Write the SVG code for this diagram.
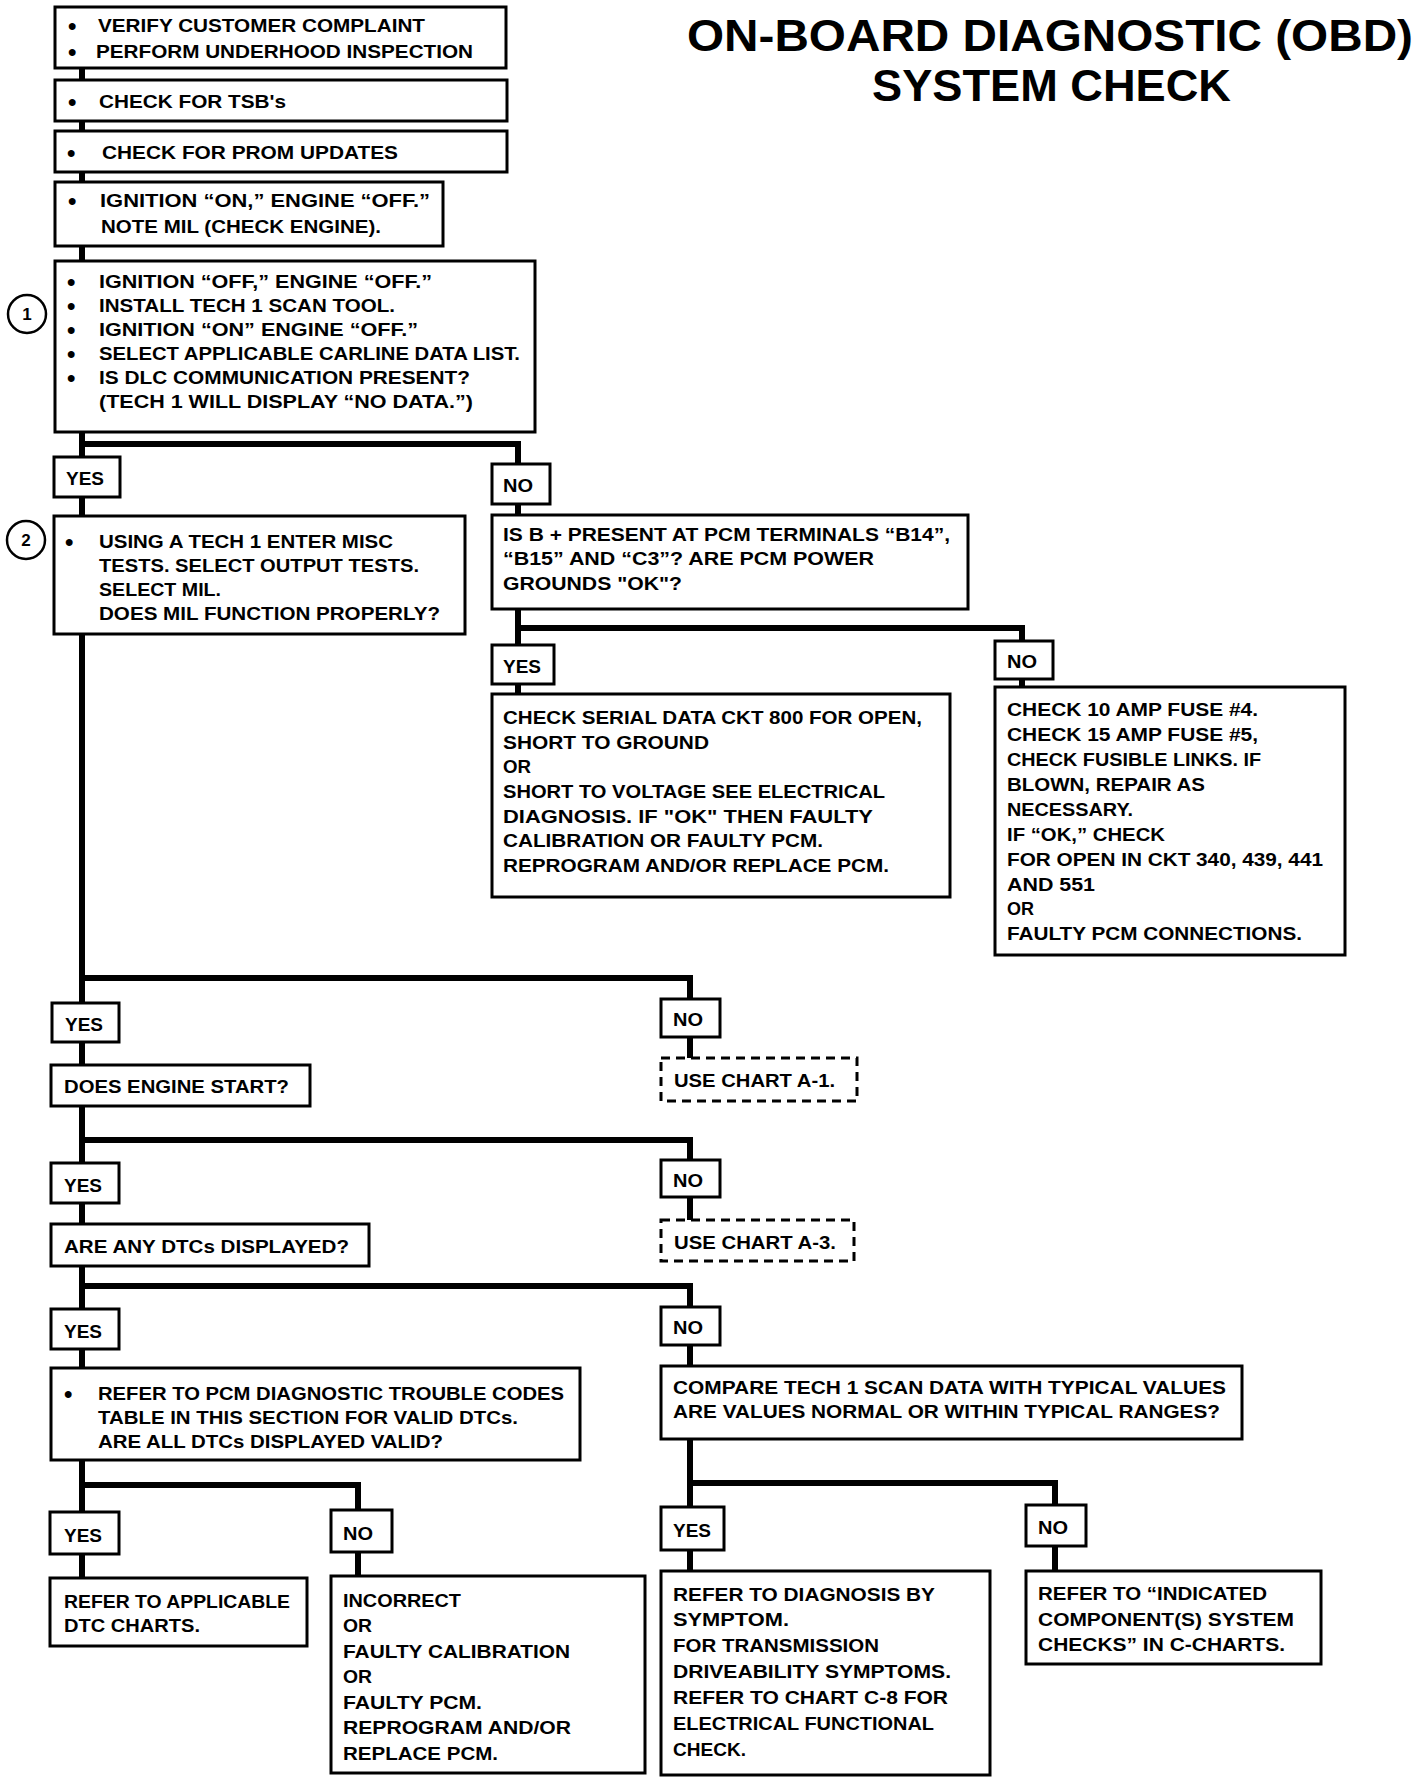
<svg xmlns="http://www.w3.org/2000/svg" width="1424" height="1778" viewBox="0 0 1424 1778">
<style>
.box{fill:#fff;stroke:#000;stroke-width:3}
.dash{stroke-dasharray:9 6}
.conn{fill:none;stroke:#000;stroke-width:6;stroke-linejoin:miter;stroke-linecap:square}
text{font-family:"Liberation Sans",Arial,sans-serif;font-weight:bold;font-size:18px;fill:#000}
.title{font-size:45px}
.num{font-size:17px;text-anchor:middle}
.b{font-size:24px}
</style>
<rect width="1424" height="1778" fill="#fff"/>
<g id="title">
<text class="title" x="687" y="51" textLength="726" lengthAdjust="spacingAndGlyphs">ON-BOARD DIAGNOSTIC (OBD)</text>
<text class="title" x="872" y="101" textLength="359" lengthAdjust="spacingAndGlyphs">SYSTEM CHECK</text>
</g>
<g id="connectors">
<path class="conn" d="M82,68 V1578"/>
<path class="conn" d="M82,444 H518 V515"/>
<path class="conn" d="M518,609 V694"/>
<path class="conn" d="M518,628 H1022 V687"/>
<path class="conn" d="M82,978 H690 V1058"/>
<path class="conn" d="M82,1140 H690 V1220"/>
<path class="conn" d="M82,1286 H690 V1366"/>
<path class="conn" d="M690,1439 V1571"/>
<path class="conn" d="M690,1483 H1055 V1571"/>
<path class="conn" d="M82,1485 H358 V1576"/>
</g>
<g id="n1">
<rect class="box" x="55" y="7" width="451" height="61"/>
<text class="b" x="68" y="34">•</text><text x="98" y="32" textLength="327" lengthAdjust="spacingAndGlyphs">VERIFY CUSTOMER COMPLAINT</text>
<text class="b" x="68" y="60">•</text><text x="96" y="58" textLength="377" lengthAdjust="spacingAndGlyphs">PERFORM UNDERHOOD INSPECTION</text>
</g>
<g id="n2">
<rect class="box" x="55" y="80" width="452" height="41"/>
<text class="b" x="68" y="110">•</text><text x="99" y="108" textLength="187" lengthAdjust="spacingAndGlyphs">CHECK FOR TSB's</text>
</g>
<g id="n3">
<rect class="box" x="55" y="131" width="452" height="41"/>
<text class="b" x="67" y="161">•</text><text x="102" y="159" textLength="296" lengthAdjust="spacingAndGlyphs">CHECK FOR PROM UPDATES</text>
</g>
<g id="n4">
<rect class="box" x="55" y="182" width="388" height="64"/>
<text class="b" x="68" y="209">•</text><text x="100" y="207" textLength="330" lengthAdjust="spacingAndGlyphs">IGNITION “ON,” ENGINE “OFF.”</text>
<text x="101" y="233" textLength="280" lengthAdjust="spacingAndGlyphs">NOTE MIL (CHECK ENGINE).</text>
</g>
<g id="n5">
<rect class="box" x="55" y="261" width="480" height="171"/>
<text class="b" x="67" y="290">•</text><text x="99" y="288" textLength="333" lengthAdjust="spacingAndGlyphs">IGNITION “OFF,” ENGINE “OFF.”</text>
<text class="b" x="67" y="314">•</text><text x="99" y="312" textLength="296" lengthAdjust="spacingAndGlyphs">INSTALL TECH 1 SCAN TOOL.</text>
<text class="b" x="67" y="338">•</text><text x="99" y="336" textLength="319" lengthAdjust="spacingAndGlyphs">IGNITION “ON” ENGINE “OFF.”</text>
<text class="b" x="67" y="362">•</text><text x="99" y="360" textLength="421" lengthAdjust="spacingAndGlyphs">SELECT APPLICABLE CARLINE DATA LIST.</text>
<text class="b" x="67" y="386">•</text><text x="99" y="384" textLength="371" lengthAdjust="spacingAndGlyphs">IS DLC COMMUNICATION PRESENT?</text>
<text x="99" y="408" textLength="374" lengthAdjust="spacingAndGlyphs">(TECH 1 WILL DISPLAY “NO DATA.”)</text>
</g>
<g id="c1">
<circle cx="27" cy="314" r="19" fill="#fff" stroke="#000" stroke-width="2.5"/>
<text class="num" x="27" y="320">1</text>
</g>
<g id="yes1">
<rect class="box" x="54" y="457" width="66" height="40"/>
<text x="66" y="485" textLength="38" lengthAdjust="spacingAndGlyphs">YES</text>
</g>
<g id="no1">
<rect class="box" x="492" y="464" width="58" height="40"/>
<text x="503" y="492" textLength="30" lengthAdjust="spacingAndGlyphs">NO</text>
</g>
<g id="c2">
<circle cx="26" cy="540" r="19" fill="#fff" stroke="#000" stroke-width="2.5"/>
<text class="num" x="26" y="546">2</text>
</g>
<g id="n6">
<rect class="box" x="54" y="516" width="411" height="118"/>
<text class="b" x="65" y="550">•</text><text x="99" y="548" textLength="294" lengthAdjust="spacingAndGlyphs">USING A TECH 1 ENTER MISC</text>
<text x="99" y="572" textLength="320" lengthAdjust="spacingAndGlyphs">TESTS.  SELECT OUTPUT TESTS.</text>
<text x="99" y="596" textLength="122" lengthAdjust="spacingAndGlyphs">SELECT MIL.</text>
<text x="99" y="620" textLength="341" lengthAdjust="spacingAndGlyphs">DOES MIL FUNCTION PROPERLY?</text>
</g>
<g id="n7">
<rect class="box" x="492" y="515" width="476" height="94"/>
<text x="503" y="541" textLength="447" lengthAdjust="spacingAndGlyphs">IS B +  PRESENT AT PCM TERMINALS “B14”,</text>
<text x="503" y="565" textLength="371" lengthAdjust="spacingAndGlyphs">“B15” AND “C3”?  ARE PCM POWER</text>
<text x="503" y="590" textLength="179" lengthAdjust="spacingAndGlyphs">GROUNDS "OK"?</text>
</g>
<g id="yes2">
<rect class="box" x="492" y="645" width="62" height="39"/>
<text x="503" y="673" textLength="38" lengthAdjust="spacingAndGlyphs">YES</text>
</g>
<g id="no2">
<rect class="box" x="995" y="641" width="58" height="38"/>
<text x="1007" y="668" textLength="30" lengthAdjust="spacingAndGlyphs">NO</text>
</g>
<g id="n8">
<rect class="box" x="492" y="694" width="458" height="203"/>
<text x="503" y="724" textLength="419" lengthAdjust="spacingAndGlyphs">CHECK SERIAL DATA CKT 800 FOR OPEN,</text>
<text x="503" y="749" textLength="206" lengthAdjust="spacingAndGlyphs">SHORT TO GROUND</text>
<text x="503" y="773" textLength="28" lengthAdjust="spacingAndGlyphs">OR</text>
<text x="503" y="798" textLength="382" lengthAdjust="spacingAndGlyphs">SHORT TO VOLTAGE SEE ELECTRICAL</text>
<text x="503" y="823" textLength="370" lengthAdjust="spacingAndGlyphs">DIAGNOSIS.  IF "OK" THEN FAULTY</text>
<text x="503" y="847" textLength="320" lengthAdjust="spacingAndGlyphs">CALIBRATION OR FAULTY PCM.</text>
<text x="503" y="872" textLength="386" lengthAdjust="spacingAndGlyphs">REPROGRAM AND/OR REPLACE PCM.</text>
</g>
<g id="n9">
<rect class="box" x="995" y="687" width="350" height="268"/>
<text x="1007" y="716" textLength="251" lengthAdjust="spacingAndGlyphs">CHECK 10 AMP FUSE #4.</text>
<text x="1007" y="741" textLength="251" lengthAdjust="spacingAndGlyphs">CHECK 15 AMP FUSE #5,</text>
<text x="1007" y="766" textLength="254" lengthAdjust="spacingAndGlyphs">CHECK FUSIBLE LINKS.  IF</text>
<text x="1007" y="791" textLength="198" lengthAdjust="spacingAndGlyphs">BLOWN, REPAIR AS</text>
<text x="1007" y="816" textLength="126" lengthAdjust="spacingAndGlyphs">NECESSARY.</text>
<text x="1007" y="841" textLength="158" lengthAdjust="spacingAndGlyphs">IF “OK,” CHECK</text>
<text x="1007" y="866" textLength="316" lengthAdjust="spacingAndGlyphs">FOR OPEN IN CKT 340, 439, 441</text>
<text x="1007" y="891" textLength="88" lengthAdjust="spacingAndGlyphs">AND 551</text>
<text x="1007" y="915" textLength="27" lengthAdjust="spacingAndGlyphs">OR</text>
<text x="1007" y="940" textLength="295" lengthAdjust="spacingAndGlyphs">FAULTY PCM CONNECTIONS.</text>
</g>
<g id="yes3">
<rect class="box" x="52" y="1003" width="67" height="39"/>
<text x="65" y="1031" textLength="38" lengthAdjust="spacingAndGlyphs">YES</text>
</g>
<g id="no3">
<rect class="box" x="661" y="999" width="59" height="38"/>
<text x="673" y="1026" textLength="30" lengthAdjust="spacingAndGlyphs">NO</text>
</g>
<g id="n10">
<rect class="box" x="51" y="1065" width="259" height="41"/>
<text x="64" y="1093" textLength="225" lengthAdjust="spacingAndGlyphs">DOES ENGINE START?</text>
</g>
<g id="n11">
<rect class="box dash" x="661" y="1058" width="196" height="43"/>
<text x="674" y="1087" textLength="161" lengthAdjust="spacingAndGlyphs">USE CHART A-1.</text>
</g>
<g id="yes4">
<rect class="box" x="51" y="1163" width="68" height="40"/>
<text x="64" y="1192" textLength="38" lengthAdjust="spacingAndGlyphs">YES</text>
</g>
<g id="no4">
<rect class="box" x="661" y="1160" width="59" height="37"/>
<text x="673" y="1187" textLength="30" lengthAdjust="spacingAndGlyphs">NO</text>
</g>
<g id="n12">
<rect class="box" x="51" y="1224" width="318" height="42"/>
<text x="64" y="1253" textLength="285" lengthAdjust="spacingAndGlyphs">ARE ANY DTCs DISPLAYED?</text>
</g>
<g id="n13">
<rect class="box dash" x="661" y="1220" width="193" height="41"/>
<text x="674" y="1249" textLength="162" lengthAdjust="spacingAndGlyphs">USE CHART A-3.</text>
</g>
<g id="yes5">
<rect class="box" x="51" y="1309" width="68" height="40"/>
<text x="64" y="1338" textLength="38" lengthAdjust="spacingAndGlyphs">YES</text>
</g>
<g id="no5">
<rect class="box" x="661" y="1307" width="59" height="38"/>
<text x="673" y="1334" textLength="30" lengthAdjust="spacingAndGlyphs">NO</text>
</g>
<g id="n14">
<rect class="box" x="51" y="1368" width="529" height="92"/>
<text class="b" x="64" y="1402">•</text><text x="98" y="1400" textLength="466" lengthAdjust="spacingAndGlyphs">REFER TO PCM DIAGNOSTIC TROUBLE CODES</text>
<text x="98" y="1424" textLength="420" lengthAdjust="spacingAndGlyphs">TABLE IN THIS SECTION FOR VALID DTCs.</text>
<text x="98" y="1448" textLength="345" lengthAdjust="spacingAndGlyphs">ARE ALL DTCs DISPLAYED VALID?</text>
</g>
<g id="n15">
<rect class="box" x="661" y="1366" width="581" height="73"/>
<text x="673" y="1394" textLength="553" lengthAdjust="spacingAndGlyphs">COMPARE TECH 1 SCAN DATA WITH TYPICAL VALUES</text>
<text x="673" y="1418" textLength="547" lengthAdjust="spacingAndGlyphs">ARE VALUES NORMAL OR  WITHIN TYPICAL RANGES?</text>
</g>
<g id="yes6">
<rect class="box" x="50" y="1512" width="69" height="42"/>
<text x="64" y="1542" textLength="38" lengthAdjust="spacingAndGlyphs">YES</text>
</g>
<g id="no6">
<rect class="box" x="331" y="1510" width="61" height="42"/>
<text x="343" y="1540" textLength="30" lengthAdjust="spacingAndGlyphs">NO</text>
</g>
<g id="yes7">
<rect class="box" x="661" y="1507" width="63" height="43"/>
<text x="673" y="1537" textLength="38" lengthAdjust="spacingAndGlyphs">YES</text>
</g>
<g id="no7">
<rect class="box" x="1026" y="1505" width="60" height="41"/>
<text x="1038" y="1534" textLength="30" lengthAdjust="spacingAndGlyphs">NO</text>
</g>
<g id="n16">
<rect class="box" x="50" y="1578" width="257" height="68"/>
<text x="64" y="1608" textLength="226" lengthAdjust="spacingAndGlyphs">REFER TO APPLICABLE</text>
<text x="64" y="1632" textLength="136" lengthAdjust="spacingAndGlyphs">DTC CHARTS.</text>
</g>
<g id="n17">
<rect class="box" x="331" y="1576" width="314" height="197"/>
<text x="343" y="1607" textLength="118" lengthAdjust="spacingAndGlyphs">INCORRECT</text>
<text x="343" y="1632" textLength="29" lengthAdjust="spacingAndGlyphs">OR</text>
<text x="343" y="1658" textLength="227" lengthAdjust="spacingAndGlyphs">FAULTY CALIBRATION</text>
<text x="343" y="1683" textLength="29" lengthAdjust="spacingAndGlyphs">OR</text>
<text x="343" y="1709" textLength="139" lengthAdjust="spacingAndGlyphs">FAULTY PCM.</text>
<text x="343" y="1734" textLength="228" lengthAdjust="spacingAndGlyphs">REPROGRAM AND/OR</text>
<text x="343" y="1760" textLength="155" lengthAdjust="spacingAndGlyphs">REPLACE  PCM.</text>
</g>
<g id="n18">
<rect class="box" x="661" y="1571" width="329" height="204"/>
<text x="673" y="1601" textLength="262" lengthAdjust="spacingAndGlyphs">REFER TO DIAGNOSIS BY</text>
<text x="673" y="1626" textLength="116" lengthAdjust="spacingAndGlyphs">SYMPTOM.</text>
<text x="673" y="1652" textLength="206" lengthAdjust="spacingAndGlyphs">FOR TRANSMISSION</text>
<text x="673" y="1678" textLength="278" lengthAdjust="spacingAndGlyphs">DRIVEABILITY SYMPTOMS.</text>
<text x="673" y="1704" textLength="275" lengthAdjust="spacingAndGlyphs">REFER TO CHART C-8  FOR</text>
<text x="673" y="1730" textLength="261" lengthAdjust="spacingAndGlyphs">ELECTRICAL FUNCTIONAL</text>
<text x="673" y="1756" textLength="73" lengthAdjust="spacingAndGlyphs">CHECK.</text>
</g>
<g id="n19">
<rect class="box" x="1026" y="1571" width="295" height="93"/>
<text x="1038" y="1600" textLength="229" lengthAdjust="spacingAndGlyphs">REFER TO “INDICATED</text>
<text x="1038" y="1626" textLength="256" lengthAdjust="spacingAndGlyphs">COMPONENT(S) SYSTEM</text>
<text x="1038" y="1651" textLength="247" lengthAdjust="spacingAndGlyphs">CHECKS” IN C-CHARTS.</text>
</g>
</svg>
